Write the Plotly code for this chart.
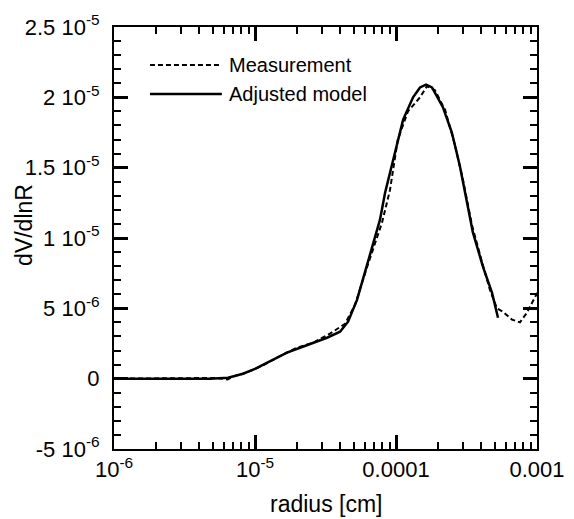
import numpy as np
import plotly.graph_objects as go

# Adjusted model (solid)
model_r = [1.0e-6, 1.8e-6, 3.46e-6, 4.8e-6, 6.44e-6, 8.22e-6, 1.0e-5, 1.216e-5, 1.686e-5,
           2.085e-5, 2.58e-5, 3.24e-5, 4.01e-5, 4.57e-5, 5.29e-5, 6.32e-5, 7.70e-5, 8.36e-5,
           9.52e-5, 1.122e-4, 1.321e-4, 1.48e-4, 1.633e-4, 1.80e-4, 2.15e-4, 2.49e-4,
           2.84e-4, 2.99e-4, 3.51e-4, 4.14e-4, 4.80e-4, 5.29e-4]
model_v = [0, 0, 0, 0, 7e-8, 3.5e-7, 7e-7, 1.14e-6, 1.85e-6,
           2.2e-6, 2.56e-6, 2.91e-6, 3.34e-6, 4.05e-6, 5.6e-6, 8.3e-6, 1.13e-5, 1.32e-5,
           1.55e-5, 1.84e-5, 2.0e-5, 2.07e-5, 2.09e-5, 2.07e-5, 1.93e-5, 1.75e-5,
           1.51e-5, 1.39e-5, 1.04e-5, 7.95e-6, 6.1e-6, 4.33e-6]

# Measurement (dashed)
meas_r = [1.0e-6, 2.0e-6, 3.5e-6, 5.2e-6, 6.4e-6, 7.2e-6, 8.5e-6, 1.12e-5, 1.50e-5,
          1.98e-5, 2.58e-5, 3.40e-5, 4.35e-5, 5.12e-5, 6.22e-5, 7.96e-5, 9.06e-5, 1.03e-4,
          1.216e-4, 1.48e-4, 1.66e-4, 1.89e-4, 2.23e-4, 2.62e-4, 2.99e-4, 3.46e-4, 4.07e-4,
          4.64e-4, 5.2e-4, 5.74e-4, 6.65e-4, 7.57e-4, 8.49e-4, 9.68e-4, 1.14e-3]
meas_v = [0, 0, 0, 5e-8, -5e-8, 2e-7, 4e-7, 9e-7, 1.6e-6,
          2.2e-6, 2.55e-6, 3.2e-6, 3.9e-6, 5.25e-6, 7.9e-6, 1.11e-5, 1.34e-5, 1.7e-5,
          1.9e-5, 2.0e-5, 2.08e-5, 2.05e-5, 1.91e-5, 1.66e-5, 1.41e-5, 1.09e-5, 8.3e-6,
          6.3e-6, 5.0e-6, 4.75e-6, 4.2e-6, 4.0e-6, 4.7e-6, 5.8e-6, 7.0e-6]

x_tickvals = [1e-6, 1e-5, 1e-4, 1e-3]
x_ticktext = ["10<sup>-6</sup>", "10<sup>-5</sup>", "0.0001", "0.001"]
y_tickvals = [-5e-6, 0, 5e-6, 1e-5, 1.5e-5, 2e-5, 2.5e-5]
y_ticktext = ["-5 10<sup>-6</sup>", "0", "5 10<sup>-6</sup>", "1 10<sup>-5</sup>",
              "1.5 10<sup>-5</sup>", "2 10<sup>-5</sup>", "2.5 10<sup>-5</sup>"]

x_minor = [m * 10.0 ** e for e in (-6, -5, -4) for m in range(2, 10)]
y_minor = [k * 1e-6 for k in range(-5, 26) if k % 5 != 0]

FONT = "Liberation Sans, Arial, sans-serif"
XR = [-6, -3]            # log10 range
YR = [-5e-6, 2.5e-5]
W, H = 566, 511
ML, MR, MT, MB = 106, 37, 19, 70

fig = go.Figure()
fig.add_trace(go.Scatter(x=meas_r, y=meas_v, mode="lines", name="Measurement",
                         line=dict(color="black", width=2, dash="5px,3px"), showlegend=False))
fig.add_trace(go.Scatter(x=model_r, y=model_v, mode="lines", name="Adjusted model",
                         line=dict(color="black", width=2.5), showlegend=False))

# Legend drawn manually (long sample lines like the reference)
leg = [("Measurement", "5px,3px", 0.91), ("Adjusted model", "solid", 0.841)]
for label, dash, yy in leg:
    fig.add_shape(type="line", xref="paper", yref="paper", x0=0.085, x1=0.255, y0=yy, y1=yy,
                  line=dict(color="black", width=2 if dash != "solid" else 2.5, dash=dash))
    fig.add_annotation(xref="paper", yref="paper", x=0.268, y=yy, text=label, showarrow=False,
                       xanchor="left", yanchor="middle", font=dict(family=FONT, size=20, color="black"))

# Axis titles
fig.add_annotation(xref="paper", yref="paper", x=0.5, y=-0.13, text="radius [cm]", showarrow=False,
                   xanchor="center", yanchor="middle", font=dict(family=FONT, size=23, color="black"))
fig.add_annotation(xref="paper", yref="paper", x=-0.2128, y=0.531, text="dV/dlnR", showarrow=False,
                   textangle=-90, xanchor="center", yanchor="middle",
                   font=dict(family=FONT, size=23, color="black"))

common = dict(
    automargin=False, tickmode="array",
    ticks="inside", ticklen=14, tickwidth=2.5, tickcolor="black",
    showline=True, linecolor="black", linewidth=2, mirror="allticks",
    showgrid=False, zeroline=False,
)

fig.update_layout(
    width=W, height=H,
    margin=dict(l=ML, r=MR, t=MT, b=MB),
    paper_bgcolor="white", plot_bgcolor="white",
    font=dict(family=FONT, size=22, color="black"),
    xaxis=dict(type="log", range=XR, tickvals=x_tickvals, ticktext=x_ticktext, **common),
    yaxis=dict(range=YR, tickvals=y_tickvals, ticktext=y_ticktext, ticklabelstandoff=8, **common),
    xaxis2=dict(type="log", range=XR, overlaying="x", anchor="y", tickvals=x_minor,
                showticklabels=False, **{**common, "ticklen": 7, "tickwidth": 2}),
    yaxis2=dict(range=YR, overlaying="y", anchor="x", tickvals=y_minor,
                showticklabels=False, **{**common, "ticklen": 7, "tickwidth": 2}),
)
fig.add_trace(go.Scatter(x=[model_r[0]], y=[model_v[0]], xaxis="x2", yaxis="y2", mode="markers",
                         marker=dict(opacity=0), hoverinfo="skip", showlegend=False))

fig.write_html("out.html")
